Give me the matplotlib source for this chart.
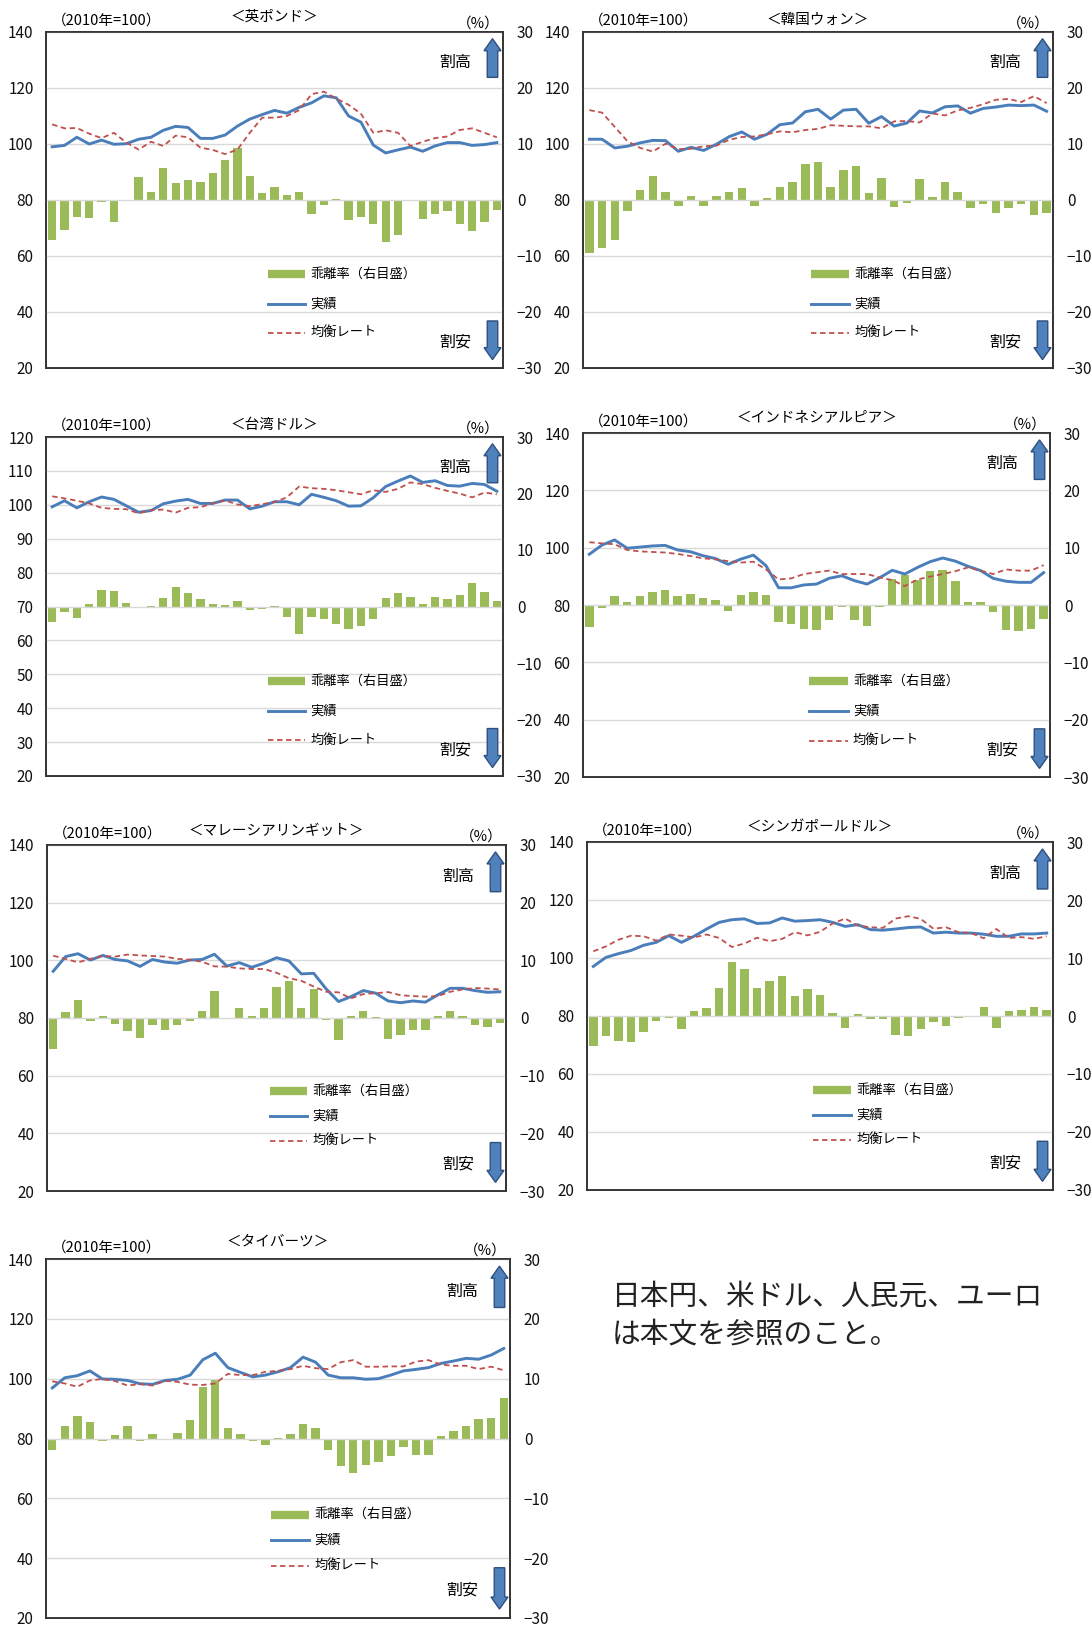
import numpy as np
import matplotlib.pyplot as plt
from matplotlib.patches import FancyArrow

plt.rcParams['font.family'] = ['Noto Sans CJK JP', 'DejaVu Sans']
plt.rcParams['axes.unicode_minus'] = True

# 10Q1 .. 19Q1
quarters = [f"{y:02d}Q{q}" for y in range(10, 20) for q in range(1, 5)][:37]
tick_labels = ['10Q1', '12Q1', '14Q1', '16Q1', '18Q1']

# 英ポンド
gbp_actual = [99.0, 99.5, 102.4, 100.0, 101.4, 99.9, 100.1, 101.7, 102.4, 104.9, 106.3, 105.9, 102.0,
              102.0, 103.2, 106.4, 108.9, 110.5, 112.0, 111.0, 113.1, 114.7, 117.2, 116.5, 110.0,
              107.8, 99.6, 96.8, 97.9, 98.9, 97.4, 99.3, 100.5, 100.5, 99.5, 99.8, 100.5]
gbp_equil = [107.0, 105.6, 105.7, 103.7, 102.1, 104.0, 100.5, 98.0, 100.8, 99.3, 103.0, 102.4, 98.7,
             97.9, 96.4, 98.0, 104.0, 109.4, 109.4, 110.0, 112.1, 117.8, 118.7, 116.2, 114.0,
             110.8, 104.0, 104.9, 104.0, 99.3, 100.8, 102.1, 102.7, 105.0, 105.6, 104.0, 102.4]
gbp_gap = [-7.1, -5.3, -3.1, -3.3, -0.4, -3.9, -0.1, 4.1, 1.4, 5.8, 3.0, 3.5, 3.3, 4.9, 7.1, 9.2,
           4.3, 1.2, 2.4, 0.9, 1.4, -2.5, -0.9, 0.1, -3.6, -3.0, -4.3, -7.5, -6.2, -0.2, -3.4,
           -2.5, -1.9, -4.2, -5.5, -3.9, -1.7]

# 韓国ウォン
krw_actual = [101.7, 101.7, 98.6, 99.2, 100.4, 101.3, 101.2, 97.4, 98.8, 97.7, 99.9, 102.6, 104.3,
              101.7, 103.5, 106.9, 107.5, 111.5, 112.4, 108.9, 112.1, 112.4, 107.4, 109.8, 106.4,
              107.5, 111.8, 111.1, 113.3, 113.6, 111.0, 112.7, 113.2, 113.9, 113.7, 113.9, 111.7]
krw_equil = [112.1, 111.2, 106.1, 101.0, 98.6, 97.3, 100.1, 98.2, 98.3, 99.2, 99.4, 101.5, 102.5,
             102.7, 103.5, 104.5, 104.2, 105.0, 105.4, 106.7, 106.5, 106.3, 106.3, 105.6, 108.1,
             108.2, 107.7, 110.9, 110.2, 112.0, 112.9, 114.2, 115.8, 116.1, 115.0, 117.1, 114.6]
krw_gap = [-9.5, -8.6, -7.1, -1.9, 1.8, 4.2, 1.4, -1.0, 0.7, -1.1, 0.8, 1.4, 2.1, -1.0, 0.3, 2.4,
           3.3, 6.5, 6.8, 2.4, 5.4, 6.0, 1.3, 3.9, -1.3, -0.5, 3.8, 0.5, 3.2, 1.4, -1.5, -0.8,
           -2.3, -1.5, -0.8, -2.6, -2.3]

# 台湾ドル
twd_actual = [99.4, 101.2, 99.1, 100.9, 102.3, 101.6, 99.7, 97.8, 98.3, 100.3, 101.1, 101.6, 100.4,
              100.4, 101.4, 101.4, 98.8, 99.6, 100.9, 100.9, 100.0, 103.1, 102.2, 101.2, 99.6,
              99.7, 102.1, 105.4, 107.0, 108.5, 106.6, 107.1, 105.7, 105.5, 106.3, 106.0, 104.0]
twd_equil = [102.5, 101.9, 101.2, 100.4, 99.1, 98.8, 98.7, 97.5, 98.4, 98.6, 97.7, 99.1, 99.3,
             100.4, 101.3, 100.1, 99.6, 100.2, 100.8, 102.2, 105.4, 104.9, 104.7, 104.3, 103.7,
             103.1, 104.3, 103.8, 104.7, 106.6, 106.1, 105.0, 104.1, 103.3, 102.2, 103.6, 103.1]
twd_gap = [-2.7, -0.9, -2.1, 0.4, 3.0, 2.8, 0.7, -0.2, 0.1, 1.5, 3.4, 2.4, 1.4, 0.4, 0.3, 1.0,
           -0.6, -0.4, 0.1, -1.8, -4.9, -1.8, -2.3, -3.1, -4.0, -3.4, -2.3, 1.5, 2.4, 1.7, 0.4,
           1.7, 1.4, 2.0, 4.1, 2.5, 0.9]

# インドネシアルピア
idr_actual = [97.7, 100.9, 102.7, 99.8, 100.2, 100.6, 100.8, 99.2, 98.6, 97.2, 96.2, 94.2, 96.0,
              97.4, 93.7, 86.0, 86.0, 87.0, 87.3, 89.3, 90.2, 88.5, 87.3, 89.5, 92.1, 90.8, 93.1,
              95.1, 96.4, 95.3, 93.5, 92.0, 89.3, 88.3, 87.9, 87.9, 91.3]
idr_equil = [101.9, 101.5, 101.2, 99.2, 98.7, 98.5, 98.3, 97.8, 97.1, 96.3, 95.9, 95.3, 94.8, 95.1,
             92.4, 88.9, 89.3, 90.8, 91.4, 92.0, 90.8, 90.8, 90.8, 89.6, 88.7, 86.6, 88.9, 89.9,
             90.8, 91.8, 93.1, 92.0, 90.8, 92.4, 92.0, 92.0, 93.9]
idr_gap = [-3.9, -0.6, 1.5, 0.6, 1.6, 2.2, 2.6, 1.6, 1.9, 1.2, 0.8, -1.0, 1.7, 2.2, 1.8, -2.9,
           -3.4, -4.2, -4.4, -2.6, -0.4, -2.6, -3.6, -0.4, 4.5, 5.3, 4.4, 6.0, 6.1, 4.1, 0.6, 0.5,
           -1.3, -4.4, -4.6, -4.2, -2.5]

# マレーシアリンギット
myr_actual = [96.2, 101.3, 102.3, 100.1, 101.7, 100.3, 99.8, 97.9, 100.3, 99.4, 99.0, 100.1, 100.3,
              102.1, 98.0, 99.2, 97.6, 99.0, 100.9, 99.8, 95.3, 95.5, 90.1, 85.7, 87.4, 89.5, 88.6,
              85.9, 85.3, 85.9, 85.5, 88.0, 90.3, 90.3, 89.5, 88.9, 89.1]
myr_equil = [101.6, 100.5, 99.3, 100.5, 101.5, 101.3, 102.0, 101.7, 101.5, 101.3, 100.5, 100.2,
             99.5, 97.9, 97.8, 97.2, 97.0, 97.0, 95.7, 93.8, 92.9, 90.9, 89.1, 88.9, 86.8, 88.3,
             88.6, 89.0, 87.9, 87.6, 87.4, 87.6, 89.1, 89.9, 90.4, 90.2, 89.9]
myr_gap = [-5.3, 1.0, 3.2, -0.5, 0.3, -1.0, -2.2, -3.5, -1.2, -2.0, -1.3, -0.5, 1.2, 4.7, -0.1,
           1.8, 0.4, 1.8, 5.3, 6.4, 1.8, 5.1, -0.3, -3.9, 0.3, 1.2, 0.1, -3.6, -2.9, -2.1, -2.0,
           0.4, 1.3, 0.3, -1.2, -1.5, -0.8]

# シンガポールドル
sgd_actual = [97.1, 100.2, 101.5, 102.6, 104.4, 105.4, 107.7, 105.4, 107.5, 110.0, 112.3, 113.2,
              113.5, 111.9, 112.1, 113.8, 112.7, 112.9, 113.2, 112.3, 110.9, 111.5, 109.8, 109.6,
              110.0, 110.5, 110.7, 108.6, 108.9, 108.6, 108.6, 108.2, 107.5, 107.5, 108.3, 108.3,
              108.6]
sgd_equil = [102.3, 104.0, 106.3, 107.7, 107.5, 106.0, 108.1, 107.7, 107.1, 108.1, 106.9, 103.8,
             105.0, 107.0, 105.8, 106.6, 108.9, 107.8, 109.0, 111.9, 113.6, 111.2, 110.6, 110.4,
             113.6, 114.4, 113.5, 110.1, 110.6, 108.9, 108.6, 106.8, 110.0, 106.9, 107.2, 106.6,
             107.5]
sgd_gap = [-5.1, -3.4, -4.3, -4.4, -2.8, -0.8, -0.4, -2.2, 0.9, 1.3, 4.8, 9.3, 8.1, 4.8, 6.0, 6.9,
           3.5, 4.6, 3.6, 0.6, -2.1, 0.3, -0.6, -0.6, -3.3, -3.4, -2.2, -1.0, -1.8, -0.4, -0.1,
           1.5, -2.1, 0.9, 1.0, 1.6, 1.0]

# タイバーツ
thb_actual = [96.9, 100.3, 101.0, 102.6, 99.9, 99.8, 99.4, 98.3, 98.1, 99.4, 99.8, 101.2, 106.3,
              108.5, 103.7, 102.1, 100.6, 101.2, 102.3, 103.7, 107.2, 105.5, 101.2, 100.3, 100.3,
              99.8, 100.0, 101.2, 102.6, 103.1, 103.7, 105.1, 105.9, 106.8, 106.5, 107.9, 110.1]
thb_equil = [99.1, 98.4, 97.3, 99.4, 99.9, 99.2, 97.7, 98.2, 97.7, 99.3, 98.9, 98.0, 97.9, 98.4,
             101.6, 101.2, 101.2, 102.3, 102.6, 103.2, 104.3, 103.5, 103.2, 105.5, 106.2, 104.0,
             104.0, 104.1, 104.1, 105.7, 106.2, 104.7, 104.3, 104.3, 103.2, 104.0, 102.8]
thb_gap = [-2.0, 2.1, 3.7, 2.7, -0.4, 0.6, 2.1, -0.4, 0.7, -0.2, 1.0, 3.1, 8.6, 9.7, 1.7, 0.8,
           -0.4, -1.1, 0.1, 0.7, 2.5, 1.8, -2.0, -4.6, -5.7, -4.4, -4.0, -3.0, -1.5, -2.7, -2.7,
           0.4, 1.2, 2.1, 3.3, 3.5, 6.7]

GREEN = '#9BBB59'
BLUE = '#4A7EBB'
RED = '#C0504D'
ARROW = '#4F81BD'
W, H = 1092, 1645

fig = plt.figure(figsize=(W / 100, H / 100), dpi=100)


def panel(box, title, actual, equil, gap, ylim, ystep, rows, title_off=15):
    x0, y0, x1, y1 = box
    w_ax = x1 - x0
    h_ax = y1 - y0
    ax2 = fig.add_axes([x0 / W, 1 - y1 / H, w_ax / W, h_ax / H])
    ax = ax2.twinx()
    ax.yaxis.tick_left()
    ax2.yaxis.tick_right()
    ax.set_zorder(ax2.get_zorder() + 1)
    ax.patch.set_visible(False)

    x = np.arange(len(quarters))
    ax2.bar(x, gap, width=0.67, color=GREEN)
    ax2.set_ylim(-30, 30)
    ax2.set_yticks(range(-30, 31, 10))

    ax.plot(x, actual, color=BLUE, lw=2.1)
    ax.plot(x, equil, color=RED, lw=1.3, ls=(0, (3, 2)))
    ax.set_ylim(*ylim)
    ax.set_yticks(np.arange(ylim[0], ylim[1] + 1, ystep))
    ax.grid(axis='y', color='#D9D9D9', lw=1.0)
    ax.set_axisbelow(True)

    ax.set_xlim(-0.5, len(quarters) - 0.5)
    ax.set_xticks(range(0, len(quarters), 8))
    ax.set_xticklabels(tick_labels)
    for a in (ax, ax2):
        a.tick_params(length=0, labelsize=11, pad=6, colors='#111111')
        for s in a.spines.values():
            s.set_color('#333333')
            s.set_linewidth(1.2)
    ax2.tick_params(axis='x', labelbottom=False)
    ax.tick_params(axis='y', pad=9)
    ax2.tick_params(axis='y', pad=10)

    ax.text(0.5, 1 + title_off / h_ax, title, transform=ax.transAxes, ha='center',
            va='center', fontsize=10.5)
    ax.text(6 / w_ax, 1 + 11 / h_ax, '（2010年=100）', transform=ax.transAxes, ha='left',
            va='center', fontsize=10.5)
    ax.text(1 - 3 / w_ax, 1 + 8.5 / h_ax, '（%）', transform=ax.transAxes, ha='right',
            va='center', fontsize=10.5)

    # legend
    lx0, lx1, tx = 0.485, 0.567, 0.578
    ax.plot([lx0, lx1], [rows[0]] * 2, transform=ax.transAxes, color=GREEN, lw=6,
            solid_capstyle='butt')
    ax.plot([lx0, lx1], [rows[1]] * 2, transform=ax.transAxes, color=BLUE, lw=2.1)
    ax.plot([lx0, lx1], [rows[2]] * 2, transform=ax.transAxes, color=RED, lw=1.3,
            ls=(0, (3, 2)))
    for r, t in zip(rows, ['乖離率（右目盛）', '実績', '均衡レート']):
        ax.text(tx, r, t, transform=ax.transAxes, ha='left', va='center', fontsize=9.5)

    # 割高 / 割安 arrows
    ax_x = 1 - 10.5 / w_ax
    arrow_kw = dict(width=10.5 / w_ax, head_width=17 / w_ax, head_length=12 / h_ax,
                    length_includes_head=True, transform=ax.transAxes, facecolor=ARROW,
                    edgecolor='#2F4F7F', lw=1.0, clip_on=False)
    ax.add_patch(FancyArrow(ax_x, 0.865, 0, 0.115, **arrow_kw))
    ax.add_patch(FancyArrow(ax_x, 0.14, 0, -0.115, **arrow_kw))
    ax.text(1 - 48 / w_ax, 0.91, '割高', transform=ax.transAxes, ha='center', va='center',
            fontsize=11.5)
    ax.text(1 - 48 / w_ax, 0.077, '割安', transform=ax.transAxes, ha='center',
            va='center', fontsize=11.5)


rows_a = (0.279, 0.191, 0.105)
rows_b = (0.288, 0.216, 0.145)
panel((46, 32, 503, 368), '＜英ポンド＞', gbp_actual, gbp_equil, gbp_gap, (20, 140), 20, rows_a,
      15)
panel((583, 32, 1053, 368), '＜韓国ウォン＞', krw_actual, krw_equil, krw_gap, (20, 140), 20,
      rows_a, 12)
panel((46, 437, 503, 776), '＜台湾ドル＞', twd_actual, twd_equil, twd_gap, (20, 120), 10, rows_a,
      12)
panel((583, 433, 1050, 777), '＜インドネシアルピア＞', idr_actual, idr_equil, idr_gap, (20, 140), 20,
      rows_a, 16)
panel((47, 845, 506, 1191), '＜マレーシアリンギット＞', myr_actual, myr_equil, myr_gap, (20, 140), 20,
      rows_b, 14)
panel((587, 842, 1053, 1190), '＜シンガポールドル＞', sgd_actual, sgd_equil, sgd_gap, (20, 140), 20,
      rows_b, 15)
panel((46, 1259, 510, 1618), '＜タイバーツ＞', thb_actual, thb_equil, thb_gap, (20, 140), 20,
      rows_b, 17)

fig.text(612 / W, 1 - 1297 / H, '日本円、米ドル、人民元、ユーロ', ha='left', va='center',
         fontsize=20.7, color='#222222')
fig.text(612 / W, 1 - 1335 / H, 'は本文を参照のこと。', ha='left', va='center', fontsize=20.7,
         color='#222222')

fig.savefig('out.png', dpi=100, facecolor='white')
